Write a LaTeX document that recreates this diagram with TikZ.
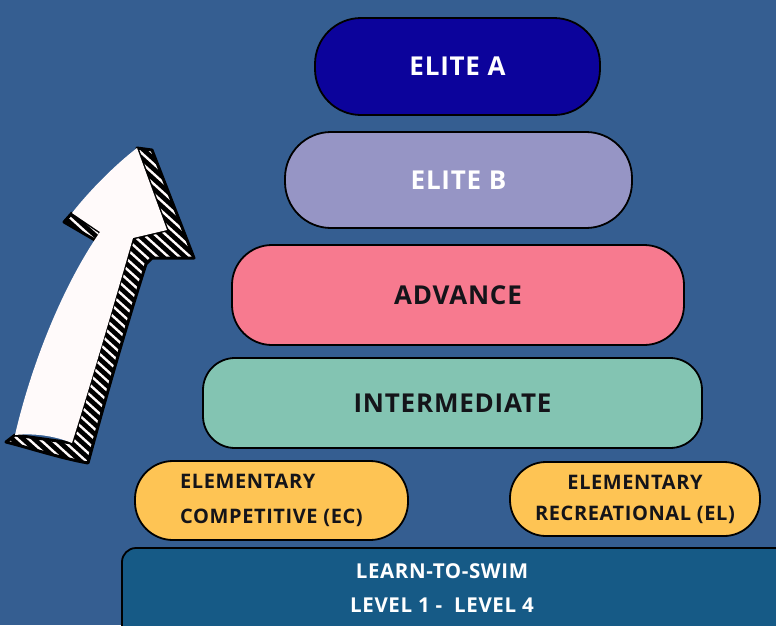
\documentclass[tikz,border=0pt]{standalone}
\usepackage{fontspec}
\setmainfont{Open Sans}
\newfontfamily\lblfont[LetterSpace=3]{Open Sans}
\definecolor{bgblue}{RGB}{53,94,145}
\definecolor{eliteA}{RGB}{12,3,155}
\definecolor{eliteB}{RGB}{150,149,197}
\definecolor{advpink}{RGB}{247,122,143}
\definecolor{interteal}{RGB}{131,196,178}
\definecolor{elemyellow}{RGB}{254,196,84}
\definecolor{ltsblue}{RGB}{22,90,134}
\definecolor{darktext}{RGB}{20,20,25}
\definecolor{arrowwhite}{RGB}{255,250,250}
\begin{document}
\begin{tikzpicture}[x=1pt,y=-1pt,
  levelbox/.style={draw=black, line width=1.8pt, rectangle, inner sep=0pt},
  bigtext/.style={font=\lblfont\bfseries\fontsize{26}{30}\selectfont},
  smalltext/.style={font=\lblfont\bfseries\fontsize{20.5}{34}\selectfont},
]
\useasboundingbox (0,0) rectangle (776,625);
\fill[bgblue] (0,0) rectangle (776,625);
\begin{scope}
\clip (0,0) rectangle (776,625);

% level boxes
\node[levelbox, fill=eliteA, minimum width=285pt, minimum height=97pt, rounded corners=46pt,
      bigtext, text=white] (elitea) at (457.5,66.5) {ELITE A};
\node[levelbox, fill=eliteB, minimum width=347pt, minimum height=96pt, rounded corners=46pt,
      bigtext, text=white] (eliteb) at (458.5,180) {ELITE B};
\node[levelbox, fill=advpink, minimum width=452pt, minimum height=100pt, rounded corners=40pt,
      bigtext, text=darktext] (advance) at (458,295) {ADVANCE};
\node[levelbox, fill=interteal, minimum width=499pt, minimum height=90pt, rounded corners=32pt,
      bigtext, text=darktext] (inter) at (452.5,403) {INTERMEDIATE};
\node[levelbox, fill=elemyellow, minimum width=273pt, minimum height=79pt, rounded corners=38pt,
      font=\lblfont\bfseries\fontsize{20}{35}\selectfont, text=darktext, align=left] (ec) at (271.5,500.5) {ELEMENTARY\\COMPETITIVE (EC)};
\node[levelbox, fill=elemyellow, minimum width=250pt, minimum height=74pt, rounded corners=36pt,
      font=\lblfont\bfseries\fontsize{20}{31}\selectfont, text=darktext, align=center] (el) at (635,499) {ELEMENTARY\\RECREATIONAL (EL)};
\node[levelbox, fill=ltsblue, minimum width=680pt, minimum height=100pt, rounded corners=14pt] (ltsbox) at (462,598) {};
\node[smalltext, text=white, align=center] (lts) at (442,588) {LEARN-TO-SWIM\\LEVEL 1 -\ \ LEVEL 4};

% sketchy arrow
\def\arrowshape{(137,148) -- (167,230) -- (133,238)
  .. controls (118,290) and (92,380) .. (72,443)
  .. controls (55,436) and (35,433) .. (15,435)
  .. controls (30,370) and (60,290) .. (100,232)
  -- (72,213) .. controls (90,190) and (115,165) .. (137,148) -- cycle}
\def\shadowshape{(137,148) -- (152,150) -- (194,258) -- (152,258) -- (146,264)
  .. controls (125,330) and (105,400) .. (88,463)
  .. controls (60,458) and (30,448) .. (6,442)
  -- (15,435) -- (72,443) -- (133,238) -- (167,230) -- cycle}
\def\barbshadow{(72,213) -- (64,222) -- (100,243) -- (100,232) -- cycle}
\fill[black] \shadowshape;
\fill[black] \barbshadow;
\begin{scope}
  \clip \shadowshape \barbshadow;
  \foreach \i in {-500,-489,...,300} {
    \draw[arrowwhite, line width=2.4pt, line cap=round] (\i,100) -- ++(420,380);
  }
\end{scope}
\draw[black, line width=3pt, line join=round] \shadowshape;
\draw[black, line width=3pt, line join=round] \barbshadow;
\fill[arrowwhite] \arrowshape;
\end{scope}
\end{tikzpicture}
\end{document}
